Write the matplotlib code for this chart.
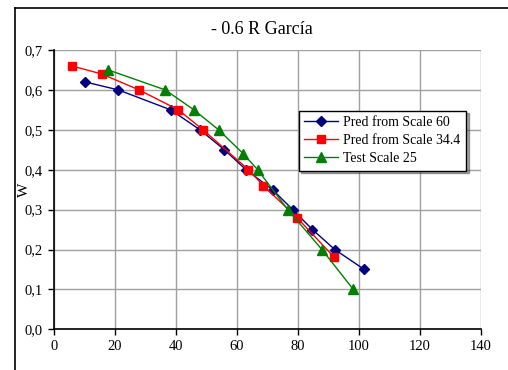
import matplotlib
matplotlib.use("Agg")
import matplotlib.pyplot as plt
from matplotlib.lines import Line2D

plt.rcParams['font.family'] = ['Liberation Serif', 'DejaVu Serif']

blue_x = [10.2, 21.1, 38.3, 47.9, 55.9, 63.0, 71.7, 78.3, 84.8, 92.1, 101.8]
blue_y = [0.62, 0.60, 0.55, 0.50, 0.45, 0.40, 0.35, 0.30, 0.25, 0.20, 0.15]
red_x = [5.9, 15.6, 27.9, 40.8, 48.9, 63.8, 68.7, 79.7, 92.0]
red_y = [0.66, 0.64, 0.60, 0.55, 0.50, 0.40, 0.36, 0.28, 0.18]
green_x = [17.8, 36.5, 45.9, 54.0, 62.1, 66.8, 76.7, 87.9, 98.2]
green_y = [0.65, 0.60, 0.55, 0.50, 0.44, 0.40, 0.30, 0.20, 0.10]
labels = ["Pred from Scale 60", "Pred from Scale 34.4", "Test Scale 25"]
xticks = [0, 20, 40, 60, 80, 100, 120, 140]
yticks = [0.0, 0.1, 0.2, 0.3, 0.4, 0.5, 0.6, 0.7]

fig = plt.figure(figsize=(5.08, 3.70), dpi=100)
W, H = 508, 370
# outer chart frame (clipped at right/bottom)
fig.add_artist(Line2D([15 / W, 15 / W], [0, 1 - 8 / H], color='black', lw=1.2))
fig.add_artist(Line2D([15 / W, 1], [1 - 8 / H, 1 - 8 / H], color='black', lw=1.2))

ax = fig.add_axes([54 / W, 1 - 329.3 / H, (480.7 - 54) / W, (329.3 - 50) / H])
ax.plot(blue_x, blue_y, color='#000080', marker='D', ms=5.5, lw=1, label=labels[0])
ax.plot(red_x, red_y, color='#FF0000', marker='s', ms=6, lw=1, label=labels[1])
ax.plot(green_x, green_y, color='#008000', marker='^', ms=7, lw=1, label=labels[2])

ax.set_xlim(0, 140)
ax.set_ylim(0, 0.7)
ax.set_xticks(xticks)
ax.set_yticks(yticks)
ax.set_yticklabels([f"{v:.1f}".replace('.', ',') for v in yticks])
ax.grid(True, color='#a0a0a0', lw=1)
ax.set_axisbelow(True)
for s in ['top', 'right']:
    ax.spines[s].set_visible(False)
for s in ['left', 'bottom']:
    ax.spines[s].set_linewidth(1.2)
ax.tick_params(direction='out', length=4, width=1, labelsize=10.5, pad=4)
ax.set_ylabel("W", fontsize=11)
ax.yaxis.set_label_coords((31 - 54) / (480.7 - 54), 0.5)
fig.text(262 / W, 1 - 30 / H, "- 0.6 R García", ha='center', va='center', fontsize=13)

leg = ax.legend(loc='upper left', bbox_to_anchor=((298.7 - 54) / (480.7 - 54), 1 - (110.7 - 50) / (329.3 - 50)),
                fontsize=10, frameon=True, fancybox=False, shadow=True,
                handlelength=2.4, borderpad=0.4, labelspacing=0.35, handletextpad=0.4,
                borderaxespad=0)
leg.get_frame().set_edgecolor('black')
leg.get_frame().set_linewidth(1)

fig.savefig("out.png", dpi=100)
